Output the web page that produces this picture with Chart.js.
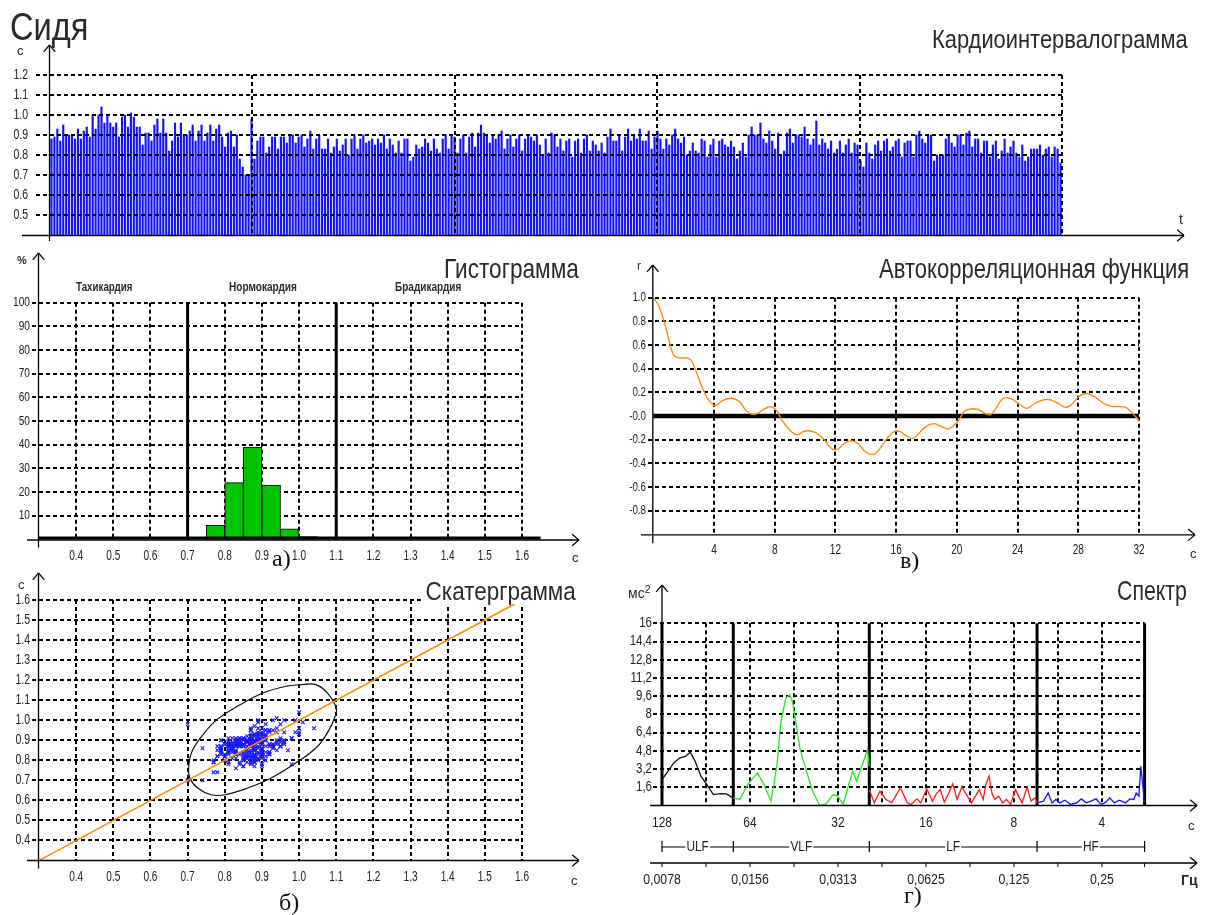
<!DOCTYPE html>
<html>
<head>
<meta charset="utf-8">
<title>Сидя</title>
<script src="https://cdn.jsdelivr.net/npm/chart.js@4.4.1/dist/chart.umd.min.js"></script>
<style>
  body { margin: 0; background: #fff; width: 1208px; height: 915px; overflow: hidden; position: relative;
         font-family: "Liberation Sans", Arial, sans-serif; }
  canvas { position: absolute; left: 0; top: 0; }
  .t { position: absolute; white-space: nowrap; color: #2a2a2a; line-height: 1; transform-origin: 0 0; }
  .t sup { font-size: 0.75em; vertical-align: 0.45em; line-height: 0; }
</style>
</head>
<body>
<canvas id="rhythm" width="1208" height="915"></canvas>
<canvas id="hist" width="1208" height="915"></canvas>
<canvas id="acf" width="1208" height="915"></canvas>
<canvas id="scatter" width="1208" height="915"></canvas>
<canvas id="spectrum" width="1208" height="915"></canvas>
<script>
// ---------- data ----------
// R-R intervals, s (one bar per beat, ~5 minutes of recording)
const rrIntervals = [
  0.88,0.89,0.93,0.87,0.95,0.90,0.90,0.90,0.88,0.93,0.88,0.92,0.94,0.89,1.00,0.93,1.00,1.04,0.96,1.00,
  0.96,0.94,0.96,0.89,0.99,1.00,0.94,1.01,0.99,0.94,0.94,0.85,0.91,0.91,0.87,0.95,0.98,0.91,0.98,0.91,
  0.82,0.87,0.96,0.89,0.96,0.90,0.90,0.92,0.95,0.87,0.92,0.95,0.87,0.91,0.95,0.87,0.93,0.95,0.89,0.84,
  0.91,0.92,0.84,0.90,0.78,0.74,0.70,0.70,0.98,0.78,0.87,0.89,0.89,0.81,0.84,0.89,0.89,0.83,0.89,0.89,
  0.86,0.90,0.90,0.86,0.89,0.90,0.84,
  0.88,0.92,0.83,0.88,0.90,0.83,0.83,0.88,0.81,0.84,0.88,0.82,0.85,0.88,0.80,0.88,0.90,0.83,0.88,0.90,
  0.86,0.87,0.88,0.85,0.88,0.86,0.90,0.83,0.88,0.85,0.81,0.87,0.81,0.88,0.88,0.77,0.79,0.85,0.83,0.84,
  0.88,0.86,0.82,0.88,0.83,0.81,0.88,0.90,0.83,0.90,0.89,0.81,0.88,0.90,0.81,0.89,0.91,0.84,0.91,0.95,
  0.91,0.90,0.86,0.90,0.88,0.90,0.92,0.83,0.88,0.90,0.84,0.88,0.90,0.82,0.88,0.90,0.89,0.87,0.90,0.85,
  0.80,0.88,0.81,0.91,0.90,0.84,0.88,
  0.82,0.87,0.88,0.79,0.87,0.88,0.81,0.88,0.90,0.82,0.87,0.85,0.82,0.86,0.81,0.89,0.93,0.87,0.87,0.90,
  0.82,0.89,0.93,0.87,0.90,0.88,0.93,0.87,0.87,0.92,0.83,0.89,0.92,0.88,0.83,0.88,0.85,0.90,0.93,0.88,
  0.86,0.89,0.80,0.82,0.86,0.82,0.81,0.88,0.87,0.79,0.85,0.88,0.79,0.87,0.88,0.85,0.84,0.87,0.84,0.78,
  0.82,0.86,0.79,0.90,0.94,0.90,0.90,0.96,0.88,0.86,0.92,0.87,0.83,0.91,0.80,0.82,0.91,0.93,0.86,0.90,
  0.90,0.89,0.94,0.88,0.85,0.88,0.97,
  0.85,0.88,0.86,0.83,0.87,0.81,0.83,0.87,0.81,0.85,0.88,0.81,0.86,0.85,0.77,0.74,0.86,0.81,0.78,0.85,
  0.87,0.82,0.87,0.88,0.82,0.84,0.87,0.88,0.79,0.86,0.87,0.87,0.79,0.90,0.92,0.88,0.86,0.90,0.90,0.77,
  0.80,0.80,0.80,0.88,0.90,0.86,0.84,0.90,0.90,0.85,0.91,0.92,0.84,0.88,0.88,0.81,0.87,0.87,0.79,0.85,
  0.87,0.78,0.82,0.88,0.81,0.84,0.87,0.81,0.79,0.85,0.77,0.79,0.83,0.83,0.83,0.85,0.80,0.83,0.84,0.79,
  0.84,0.83,0.76
];
const rrTicks = [0.5, 0.6, 0.7, 0.8, 0.9, 1.0, 1.1, 1.2];
const rrMinutes = [1, 2, 3, 4, 5];

// histogram, bins of 0.05 s
const histBinCenters = [0.775, 0.825, 0.875, 0.925, 0.975, 1.025];
const histPercent = [6, 24, 39, 23, 4.5, 1.2];
const histTicksY = [10, 20, 30, 40, 50, 60, 70, 80, 90, 100];
const secTicks = [0.4, 0.5, 0.6, 0.7, 0.8, 0.9, 1.0, 1.1, 1.2, 1.3, 1.4, 1.5, 1.6];
const histZoneEdges = [0.7, 1.1];
const histBaseRange = [0.3, 1.65];

// autocorrelation function
const acfLag = [0,0.33,0.71,1.1,1.35,1.74,2.25,2.5,2.76,3.14,3.52,3.9,4.16,4.55,5.18,5.69,6.08,6.46,6.84,7.2,
  7.7,8.1,8.5,9.0,9.5,9.9,10.5,11.2,11.7,12.1,12.6,13.1,13.5,14.0,14.5,14.9,15.4,15.9,16.3,16.7,
  17.1,17.4,17.95,18.5,19.0,19.4,19.7,20.1,20.5,20.9,21.4,21.8,22.2,22.5,23.06,23.6,24.1,24.6,25.1,25.9,
  26.5,27.1,27.5,28.0,28.5,29.1,29.7,30.3,31.1,31.6,32.0];
const acfR = [1.0,0.94,0.80,0.61,0.51,0.49,0.49,0.47,0.40,0.27,0.16,0.10,0.09,0.13,0.15,0.12,0.05,0.015,0.02,0.05,
  0.08,0.05,-0.04,-0.12,-0.16,-0.13,-0.13,-0.19,-0.27,-0.285,-0.23,-0.21,-0.235,-0.305,-0.325,-0.28,-0.19,-0.13,-0.135,-0.17,
  -0.19,-0.16,-0.09,-0.065,-0.09,-0.11,-0.09,-0.04,0.04,0.06,0.055,0.025,0.01,0.05,0.15,0.145,0.10,0.065,0.105,0.14,
  0.12,0.075,0.09,0.16,0.19,0.16,0.105,0.08,0.075,0.02,-0.04];
const acfTicksY = ['1.0', '0.8', '0.6', '0.4', '0.2', '-0.0', '-0.2', '-0.4', '-0.6', '-0.8'];
const acfTicksX = [4, 8, 12, 16, 20, 24, 28, 32];

// scattergram: identity line and the outlining ellipse
const diagX = [0.3, 1.58];
const ellipseX = [1.008,1.045,1.076,1.1,1.097,1.081,1.05,0.998,0.925,0.862,0.8,0.763,0.727,0.706,0.703,0.712,0.738,0.779,0.842,0.904,0.967,1.008];
const ellipseY = [1.178,1.178,1.137,1.062,1.02,0.953,0.87,0.795,0.712,0.662,0.628,0.628,0.662,0.712,0.77,0.845,0.92,1.003,1.078,1.137,1.17,1.178];

// spectrum, Hz -> ms^2
const ulfF = [0.00782,0.00818,0.00857,0.00897,0.00939,0.00977,0.01014,0.01062,0.01112,0.01171,0.01238,0.01296,0.0137];
const ulfP = [2.28,3.0,3.74,4.17,4.32,4.67,3.88,2.57,1.84,0.96,1.05,1.02,0.67];
const vlfF = [0.0137,0.01443,0.01534,0.01656,0.01734,0.01844,0.0193,0.01991,0.02072,0.02136,0.02183,0.0232,
  0.0243,0.02545,0.02705,0.02833,0.03012,0.03125,0.03253,0.03511,0.0362,0.03734,0.03945,0.04];
const vlfP = [0.67,0.53,1.84,2.86,1.99,0.38,3.45,7.24,9.43,9.72,9.14,4.9,3.15,1.4,0.0,0.09,0.96,0.82,0.09,3.0,2.13,3.15,4.9,3.45];
const lfF = [0.04,0.0416,0.0435,0.0456,0.0477,0.0511,0.054,0.0556,0.0582,0.06,0.0629,0.0658,0.0679,0.07,0.0722,0.0744,
  0.0772,0.0799,0.0829,0.086,0.0895,0.0923,0.0951,0.0981,0.1002,0.1027,0.1052,0.1075,0.1109,0.1144,0.1179,0.1216,
  0.1266,0.1305,0.1333,0.1387,0.1431,0.1475,0.15];
const lfP = [1.4,0.23,1.26,0.53,0.23,1.55,0.23,0.09,0.58,0.23,1.46,0.38,1.05,1.4,0.29,0.96,1.9,0.53,1.63,0.96,
  0.23,0.82,1.4,0.53,1.84,2.57,1.05,0.53,0.82,0.23,0.53,0.09,1.4,0.67,0.23,1.63,0.38,0.67,0.23];
const hfF = [0.15,0.1578,0.1637,0.1688,0.1741,0.1795,0.1869,0.1956,0.2048,0.2124,0.2211,0.2294,0.2388,0.2484,0.2578,
  0.2659,0.2758,0.287,0.3006,0.312,0.3216,0.3275,0.3346,0.3398,0.3451,0.35];
const hfP = [0.23,0.38,1.1,0.23,0.53,0.23,0.47,0.09,0.23,0.58,0.23,0.38,0.58,0.09,0.29,0.67,0.23,0.47,0.23,0.58,0.53,1.1,0.82,3.45,1.7,0.23];
const bandEdges = [0.0078125, 0.0137, 0.04, 0.15, 0.35];
const bandNames = ['ULF', 'VLF', 'LF', 'HF'];
const specTicksY = [1.6, 3.2, 4.8, 6.4, 8, 9.6, 11.2, 12.8, 14.4, 16];
const specGridF = [0.01105, 0.015625, 0.0221, 0.03125, 0.0442, 0.0625, 0.0884, 0.125, 0.1768, 0.25];
const specPeriods = [128, 64, 32, 16, 8, 4];
const specFreqLabels = ['0,0078', '0,0156', '0,0313', '0,0625', '0,125', '0,25'];

// ---------- drawing helpers ----------
const W = 1208, H = 915;
const DASH = [4, 3];
const pad = r => ({ left: r.l, top: r.t, right: W - r.r, bottom: H - r.b });
const base = rect => ({
  responsive: false, animation: false, devicePixelRatio: 1, events: [],
  layout: { padding: pad(rect) },
  plugins: { legend: { display: false }, tooltip: { enabled: false } }
});

function seg(ctx, x1, y1, x2, y2, w, dash) {
  ctx.save();
  ctx.beginPath();
  ctx.lineWidth = w;
  ctx.strokeStyle = '#000';
  ctx.setLineDash(dash || []);
  ctx.moveTo(x1, y1);
  ctx.lineTo(x2, y2);
  ctx.stroke();
  ctx.restore();
}
const hDash = (ctx, x1, x2, y) => seg(ctx, x1, Math.round(y), x2, Math.round(y), 2, DASH);
const vDash = (ctx, x, y1, y2) => seg(ctx, Math.round(x), y1, Math.round(x), y2, 2, DASH);

function axisArrow(ctx, x1, y1, x2, y2) {
  seg(ctx, x1, y1, x2, y2, 1.3);
  const a = Math.atan2(y2 - y1, x2 - x1), L = 9, s = 0.7;
  seg(ctx, x2, y2, x2 - L * Math.cos(a - s), y2 - L * Math.sin(a - s), 1.2);
  seg(ctx, x2, y2, x2 - L * Math.cos(a + s), y2 - L * Math.sin(a + s), 1.2);
}

function tickText(ctx, str, x, y, align, size, sx) {
  ctx.save();
  ctx.translate(x, y);
  ctx.scale(sx, 1);
  ctx.font = size + 'px "Liberation Sans", Arial, sans-serif';
  ctx.fillStyle = '#222';
  ctx.textAlign = align;
  ctx.textBaseline = 'middle';
  ctx.fillText(str, 0, 0);
  ctx.restore();
}

function addText(html, left, top, size, width, opts) {
  opts = opts || {};
  const el = document.createElement('div');
  el.className = 't';
  el.innerHTML = html;
  el.style.left = left + 'px';
  el.style.top = top + 'px';
  el.style.fontSize = size + 'px';
  if (opts.serif) el.style.fontFamily = '"Liberation Serif", "Times New Roman", serif';
  if (opts.bold) el.style.fontWeight = 'bold';
  if (opts.bg) { el.style.background = '#fff'; el.style.paddingLeft = '3px'; el.style.marginLeft = '-3px'; }
  if (opts.color) el.style.color = opts.color;
  document.body.appendChild(el);
  if (width) el.style.transform = 'scaleX(' + (width / el.offsetWidth) + ')';
  return el;
}

// ---------- 1. cardiointervalogram ----------
const rectRhythm = { l: 50, t: 75, r: 1062, b: 235 };
new Chart(document.getElementById('rhythm'), {
  type: 'bar',
  data: {
    labels: rrIntervals.map((_, i) => i + 1),
    datasets: [{ data: rrIntervals, backgroundColor: '#1414ff', barThickness: 1.5, borderWidth: 0 }]
  },
  options: Object.assign(base(rectRhythm), {
    scales: {
      x: { display: false },
      minutes: { type: 'linear', axis: 'x', position: 'bottom', display: false, offset: false, min: 0, max: 5 },
      y: { display: false, min: 0.4, max: 1.2 }
    }
  }),
  plugins: [{
    id: 'rhythmDecor',
    afterDatasetsDraw(chart) {
      const { ctx, chartArea: a, scales: { y, minutes } } = chart;
      rrTicks.forEach(v => {
        const py = y.getPixelForValue(v);
        hDash(ctx, 36, a.right, py);
        tickText(ctx, v.toFixed(1), 28, py, 'right', 14, 0.75);
      });
      rrMinutes.forEach(m => vDash(ctx, minutes.getPixelForValue(m), a.top, a.bottom));
      axisArrow(ctx, 22, a.bottom + 0.5, 1184, a.bottom + 0.5);
      axisArrow(ctx, a.left - 0.5, a.bottom + 6, a.left - 0.5, 45);
    }
  }]
});

// ---------- 2. histogram ----------
const rectHist = { l: 39, t: 302.7, r: 522, b: 539.5 };
new Chart(document.getElementById('hist'), {
  type: 'bar',
  data: {
    datasets: [{
      data: histBinCenters.map((c, i) => ({ x: c, y: histPercent[i] })),
      backgroundColor: '#00c400', borderColor: '#000', borderWidth: 1,
      barPercentage: 1, categoryPercentage: 1
    }]
  },
  options: Object.assign(base(rectHist), {
    scales: {
      x: { type: 'linear', display: false, offset: false, min: 0.3, max: 1.6 },
      y: { display: false, min: 0, max: 100 }
    }
  }),
  plugins: [{
    id: 'histDecor',
    beforeDatasetsDraw(chart) {
      const { ctx, chartArea: a, scales: { x, y } } = chart;
      histTicksY.forEach(v => hDash(ctx, 32, a.right, y.getPixelForValue(v)));
      secTicks.forEach(v => vDash(ctx, x.getPixelForValue(v), a.top, a.bottom));
    },
    afterDatasetsDraw(chart) {
      const { ctx, chartArea: a, scales: { x, y } } = chart;
      histTicksY.forEach(v => tickText(ctx, String(v), 30, y.getPixelForValue(v), 'right', 13, 0.78));
      secTicks.forEach(v => tickText(ctx, v.toFixed(1), x.getPixelForValue(v), 556, 'center', 14, 0.72));
      histZoneEdges.forEach(v => seg(ctx, x.getPixelForValue(v), a.top, x.getPixelForValue(v), a.bottom, 3));
      seg(ctx, x.getPixelForValue(histBaseRange[0]), a.bottom - 1.5, x.getPixelForValue(histBaseRange[1]), a.bottom - 1.5, 3);
      axisArrow(ctx, 27, a.bottom + 0.5, 579, a.bottom + 0.5);
      axisArrow(ctx, a.left - 0.5, a.bottom + 8, a.left - 0.5, 253);
    }
  }]
});

// ---------- 3. autocorrelation ----------
const rectAcf = { l: 653.3, t: 297.7, r: 1139, b: 534.3 };
new Chart(document.getElementById('acf'), {
  type: 'line',
  data: {
    datasets: [{
      data: acfLag.map((l, i) => ({ x: l, y: acfR[i] })),
      borderColor: '#ff8a00', borderWidth: 1.3, pointRadius: 0, tension: 0.35, fill: false
    }]
  },
  options: Object.assign(base(rectAcf), {
    scales: {
      x: { type: 'linear', display: false, offset: false, min: 0, max: 32 },
      y: { display: false, min: -1, max: 1 }
    }
  }),
  plugins: [{
    id: 'acfDecor',
    beforeDatasetsDraw(chart) {
      const { ctx, chartArea: a, scales: { x, y } } = chart;
      acfTicksY.forEach(s => {
        const v = parseFloat(s), py = y.getPixelForValue(v);
        if (v !== 0) hDash(ctx, 648, a.right, py);
        tickText(ctx, s, 646, py, 'right', 13, 0.75);
      });
      acfTicksX.forEach(v => {
        vDash(ctx, x.getPixelForValue(v), a.top, a.bottom);
        tickText(ctx, String(v), x.getPixelForValue(v), 550, 'center', 14, 0.72);
      });
      const y0 = y.getPixelForValue(0);
      seg(ctx, a.left, y0, a.right, y0, 4.5);
    },
    afterDatasetsDraw(chart) {
      const { ctx, chartArea: a } = chart;
      axisArrow(ctx, 641, a.bottom + 0.5, 1195, a.bottom + 0.5);
      axisArrow(ctx, a.left - 0.5, a.bottom + 9, a.left - 0.5, 265);
    }
  }]
});

// ---------- 4. scattergram ----------
const rectScat = { l: 39, t: 600, r: 522, b: 860.5 };
new Chart(document.getElementById('scatter'), {
  type: 'scatter',
  data: {
    datasets: [
      {
        data: diagX.map(v => ({ x: v, y: v })), showLine: true,
        borderColor: '#ff8a00', borderWidth: 1.5, pointRadius: 0
      },
      {
        data: ellipseX.map((v, i) => ({ x: v, y: ellipseY[i] })), showLine: true,
        borderColor: '#111', borderWidth: 1.2, pointRadius: 0, tension: 0.4
      },
      {
        data: rrIntervals.slice(0, -1).map((v, i) => ({ x: v, y: rrIntervals[i + 1] })),
        pointStyle: 'crossRot', pointRadius: 2.6, borderColor: '#1a1aff', borderWidth: 1.1,
        backgroundColor: '#1a1aff'
      }
    ]
  },
  options: Object.assign(base(rectScat), {
    scales: {
      x: { type: 'linear', display: false, offset: false, min: 0.3, max: 1.6 },
      y: { type: 'linear', display: false, min: 0.3, max: 1.6 }
    }
  }),
  plugins: [{
    id: 'scatDecor',
    beforeDatasetsDraw(chart) {
      const { ctx, chartArea: a, scales: { x, y } } = chart;
      secTicks.forEach(v => {
        hDash(ctx, 32, a.right, y.getPixelForValue(v));
        vDash(ctx, x.getPixelForValue(v), a.top, a.bottom);
        tickText(ctx, v.toFixed(1), 30, y.getPixelForValue(v), 'right', 14, 0.75);
        tickText(ctx, v.toFixed(1), x.getPixelForValue(v), 877, 'center', 14, 0.72);
      });
    },
    afterDatasetsDraw(chart) {
      const { ctx, chartArea: a } = chart;
      axisArrow(ctx, 27, a.bottom, 579, a.bottom);
      axisArrow(ctx, a.left - 0.5, a.bottom + 8, a.left - 0.5, 573);
    }
  }]
});

// ---------- 5. spectrum ----------
const rectSpec = { l: 662, t: 623.3, r: 1144.6, b: 805.5 };
const band = (f, p, color) => ({
  data: f.map((v, i) => ({ x: v, y: p[i] })),
  borderColor: color, borderWidth: 1.3, pointRadius: 0, tension: 0, fill: false
});
new Chart(document.getElementById('spectrum'), {
  type: 'line',
  data: {
    datasets: [
      band(ulfF, ulfP, '#111'),
      band(vlfF, vlfP, '#22e622'),
      band(lfF, lfP, '#ff1a1a'),
      band(hfF, hfP, '#1414ff')
    ]
  },
  options: Object.assign(base(rectSpec), {
    scales: {
      x: { type: 'logarithmic', display: false, offset: false, min: bandEdges[0], max: bandEdges[bandEdges.length - 1] },
      y: { display: false, min: 0, max: 16 }
    }
  }),
  plugins: [{
    id: 'specDecor',
    beforeDatasetsDraw(chart) {
      const { ctx, chartArea: a, scales: { x, y } } = chart;
      specTicksY.forEach(v => {
        const py = y.getPixelForValue(v);
        hDash(ctx, 653, a.right, py);
        tickText(ctx, String(v).replace('.', ','), 652, py, 'right', 14, 0.82);
      });
      specGridF.forEach(f => vDash(ctx, x.getPixelForValue(f), a.top, a.bottom));
      bandEdges.forEach(f => seg(ctx, x.getPixelForValue(f), a.top, x.getPixelForValue(f), a.bottom, 3));
    },
    afterDatasetsDraw(chart) {
      const { ctx, chartArea: a, scales: { x } } = chart;
      axisArrow(ctx, 650, a.bottom, 1197, a.bottom);
      axisArrow(ctx, a.left, a.top, a.left, 585);
      specPeriods.forEach(p => tickText(ctx, String(p), x.getPixelForValue(1 / p), 823, 'center', 15, 0.8));
      // band bracket
      const yb = 847, xs = bandEdges.map(f => x.getPixelForValue(f));
      seg(ctx, xs[0], yb, xs[xs.length - 1], yb, 1);
      xs.forEach(px => seg(ctx, px, yb - 6, px, yb + 5, 1.2));
      bandNames.forEach((n, i) => {
        const cx = (xs[i] + xs[i + 1]) / 2;
        ctx.save();
        ctx.font = '14px "Liberation Sans", Arial, sans-serif';
        const w = ctx.measureText(n).width * 0.85;
        ctx.fillStyle = '#fff';
        ctx.fillRect(cx - w / 2 - 1, yb - 8, w + 2, 16);
        ctx.restore();
        tickText(ctx, n, cx, yb, 'center', 14, 0.85);
      });
      // frequency axis
      const yf = 863;
      axisArrow(ctx, 650, yf, 1197, yf);
      [bandEdges[0]].concat(specGridF, [bandEdges[bandEdges.length - 1]])
        .forEach(f => seg(ctx, x.getPixelForValue(f), yf, x.getPixelForValue(f), yf + 4, 1));
      specPeriods.forEach((p, i) => tickText(ctx, specFreqLabels[i], x.getPixelForValue(1 / p), 880, 'center', 15, 0.82));
    }
  }]
});

// ---------- texts ----------
addText('Сидя', 10, 8, 38, 78);
addText('Кардиоинтервалограмма', 932, 26, 26, 256);
addText('Гистограмма', 444, 255, 28, 135);
addText('Автокорреляционная функция', 879, 256, 27, 310);
addText('Скатерграмма', 426, 578, 26, 153, { bg: true });
addText('Спектр', 1117, 577, 28, 70);

addText('Тахикардия', 76, 281, 12, 56, { bold: true });
addText('Нормокардия', 229, 281, 12, 68, { bold: true });
addText('Брадикардия', 395, 281, 12, 66, { bold: true });

addText('с', 17, 44, 13);
addText('t', 1179, 212, 14);
addText('%', 17, 255, 11, 0, { bold: true });
addText('с', 572, 551, 13);
addText('r', 637, 260, 12);
addText('с', 1190, 547, 13);
addText('с', 18, 578, 13);
addText('с', 571, 874, 13);
addText('мс<sup>2</sup>', 628, 586, 14);
addText('с', 1188, 819, 13);
addText('Гц', 1181, 873, 14, 0, { bold: true });

addText('а)', 272, 546, 24, 0, { serif: true, color: '#111' });
addText('в)', 900, 548, 24, 0, { serif: true, color: '#111' });
addText('б)', 279, 890, 24, 0, { serif: true, color: '#111' });
addText('г)', 904, 883, 24, 0, { serif: true, color: '#111' });
</script>
</body>
</html>
